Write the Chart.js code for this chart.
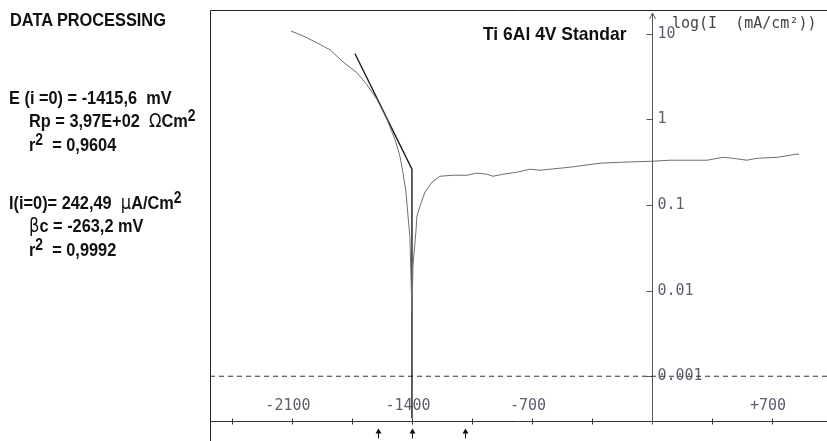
<!DOCTYPE html>
<html>
<head>
<meta charset="utf-8">
<script src="https://cdn.jsdelivr.net/npm/chart.js@4.4.0/dist/chart.umd.min.js"></script>
<style>
  html, body { margin: 0; padding: 0; background: #fff; }
  #wrap { position: relative; width: 827px; height: 441px; overflow: hidden; }
  #chart { position: absolute; left: 0; top: 0; }
  .txt { position: absolute; white-space: pre; font-family: "Liberation Sans", Arial, sans-serif; font-weight: bold; font-size: 19px; line-height: 1; color: #111; transform: scaleX(0.86); transform-origin: 0 0; }
  .sym { font-family: "DejaVu Sans", serif; font-weight: normal; }
  sup { font-size: 0.85em; vertical-align: 0.4em; line-height: 0; }
  .mono { position: absolute; white-space: pre; font-family: "DejaVu Sans Mono", "Liberation Mono", monospace; font-size: 15px; line-height: 1; color: #444; }
</style>
</head>
<body>
<div id="wrap">
  <canvas id="chart" width="827" height="441"></canvas>
  <div class="txt" style="left:10px; top:10px;">DATA PROCESSING</div>
  <div class="txt" style="left:9px; top:88px;">E (i =0) = -1415,6  mV</div>
  <div class="txt" style="left:29px; top:111px;">Rp = 3,97E+02  <span class="sym">Ω</span>Cm<sup>2</sup></div>
  <div class="txt" style="left:29px; top:135px;">r<sup>2</sup>  = 0,9604</div>
  <div class="txt" style="left:9px; top:193px;">I(i=0)= 242,49  <span class="sym">µ</span>A/Cm<sup>2</sup></div>
  <div class="txt" style="left:29px; top:216px;"><span class="sym">β</span>c = -263,2 mV</div>
  <div class="txt" style="left:29px; top:240px;">r<sup>2</sup>  = 0,9992</div>
  <div class="txt" style="left:483px; top:24px; transform: scaleX(0.92);">Ti 6Al 4V Standar</div>
  <div class="mono" style="left:672px; top:16px;">log(I  (mA/cm²))</div>
</div>
<script>
// polarisation curve, potential in mV, current density in mA/cm2
const potential = [-2106, -2036, -1954, -1878, -1803, -1721, -1663, -1604, -1546, -1499,
  -1470, -1453, -1435, -1423, -1412, -1400, -1394, -1377, -1371, -1353,
  -1324, -1283, -1237, -1161, -1079, -1021, -962, -928, -869, -788,
  -712, -653, -478, -303, -187, 0, 105, 222, 321, 414,
  473, 554, 613, 729, 805, 834, 858];
const current = [10.8, 9.48, 7.86, 6.52, 4.72, 3.52, 2.55, 1.71, 1.0, 0.585,
  0.371, 0.242, 0.142, 0.0745, 0.0425, 0.0057, 0.0195, 0.0485, 0.0745, 0.0973,
  0.142, 0.185, 0.217, 0.223, 0.223, 0.236, 0.229, 0.217, 0.229, 0.242,
  0.262, 0.255, 0.277, 0.308, 0.316, 0.325, 0.334, 0.334, 0.334, 0.361,
  0.352, 0.334, 0.352, 0.361, 0.381, 0.392, 0.392];

// Tafel fit line
const fitPotential = [-1732, -1400, -1400];
const fitCurrent = [5.85, 0.262, 0.00032];

// axis ranges and ticks
const X_MIN = -2578, X_MAX = 1021;
const Y_MIN = 0.000316, Y_MAX = 19;
const xTicks = [-2450, -2100, -1750, -1400, -1050, -700, -350, 0, 350, 700];
const xTickLabels = ['', '-2100', '', '-1400', '', '-700', '', '', '', '+700'];
const yTicks = [10, 1, 0.1, 0.01, 0.001];
const yTickLabels = ['10', '1', '0.1', '0.01', '0.001'];
const limitLevel = 0.001;
const markerPotentials = [-1600, -1400, -1090];

const toPoints = (xs, ys) => xs.map((v, i) => ({ x: v, y: ys[i] }));

const axesPlugin = {
  id: 'axesPlugin',
  beforeDatasetsDraw(chart) {
    const { ctx, chartArea: a, scales: { x, y } } = chart;
    ctx.save();
    ctx.lineWidth = 1;
    ctx.strokeStyle = '#222';
    // frame on top and left
    ctx.beginPath();
    ctx.moveTo(a.left + 0.5, chart.height);
    ctx.lineTo(a.left + 0.5, a.top + 0.5);
    ctx.lineTo(a.right, a.top + 0.5);
    ctx.stroke();

    const y0 = Math.round(a.bottom) + 0.5;
    const x0 = Math.round(x.getPixelForValue(0)) + 0.5;

    // x axis
    ctx.strokeStyle = '#333';
    ctx.beginPath();
    ctx.moveTo(a.left, y0);
    ctx.lineTo(a.right, y0);
    xTicks.forEach(v => {
      const px = Math.round(x.getPixelForValue(v)) + 0.5;
      ctx.moveTo(px, y0 - 3);
      ctx.lineTo(px, y0 + 3);
    });
    ctx.stroke();

    // y axis with arrow
    ctx.strokeStyle = '#555';
    ctx.beginPath();
    ctx.moveTo(x0, a.top + 3);
    ctx.lineTo(x0, y0 + 2);
    ctx.moveTo(x0 - 3, a.top + 9);
    ctx.lineTo(x0, a.top + 3);
    ctx.lineTo(x0 + 3, a.top + 9);
    yTicks.forEach(v => {
      const py = Math.round(y.getPixelForValue(v)) + 0.5;
      ctx.moveTo(x0 - 6, py);
      ctx.lineTo(x0, py);
    });
    ctx.stroke();

    // tick labels
    ctx.fillStyle = '#5b5f70';
    ctx.font = '15px "DejaVu Sans Mono", "Liberation Mono", monospace';
    ctx.textBaseline = 'middle';
    ctx.textAlign = 'left';
    yTicks.forEach((v, i) => {
      ctx.fillText(yTickLabels[i], x0 + 5, y.getPixelForValue(v));
    });
    ctx.textAlign = 'center';
    xTicks.forEach((v, i) => {
      if (xTickLabels[i]) ctx.fillText(xTickLabels[i], x.getPixelForValue(v) - 4, y0 - 15);
    });

    // fit range markers below the axis
    ctx.strokeStyle = '#111';
    ctx.fillStyle = '#111';
    markerPotentials.forEach(v => {
      const px = Math.round(x.getPixelForValue(v)) + 0.5;
      ctx.beginPath();
      ctx.moveTo(px, y0 + 8);
      ctx.lineTo(px, y0 + 17);
      ctx.stroke();
      ctx.beginPath();
      ctx.moveTo(px - 3, y0 + 12);
      ctx.lineTo(px, y0 + 7);
      ctx.lineTo(px + 3, y0 + 12);
      ctx.closePath();
      ctx.fill();
    });
    ctx.restore();
  }
};

new Chart(document.getElementById('chart'), {
  type: 'scatter',
  data: {
    datasets: [
      {
        data: toPoints(potential, current),
        showLine: true,
        borderColor: '#6e6e6e',
        borderWidth: 1,
        pointRadius: 0,
        tension: 0
      },
      {
        data: toPoints(fitPotential, fitCurrent),
        showLine: true,
        borderColor: '#1c1c1c',
        borderWidth: 1.4,
        pointRadius: 0
      },
      {
        data: toPoints([X_MIN, X_MAX], [limitLevel, limitLevel]),
        showLine: true,
        borderColor: '#333',
        borderWidth: 1,
        borderDash: [5, 4],
        pointRadius: 0
      }
    ]
  },
  options: {
    responsive: false,
    devicePixelRatio: 1,
    animation: false,
    layout: { padding: { left: 210, top: 10, right: 0, bottom: 20 } },
    scales: {
      x: { type: 'linear', min: X_MIN, max: X_MAX, display: false },
      y: { type: 'logarithmic', min: Y_MIN, max: Y_MAX, display: false }
    },
    plugins: {
      legend: { display: false },
      tooltip: { enabled: false }
    }
  },
  plugins: [axesPlugin]
});
</script>
</body>
</html>
